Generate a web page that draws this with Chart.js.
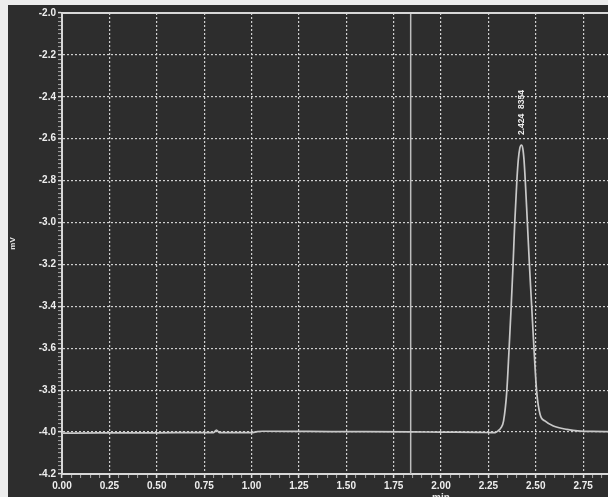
<!DOCTYPE html>
<html>
<head>
<meta charset="utf-8">
<script src="https://cdn.jsdelivr.net/npm/chart.js@4.4.1/dist/chart.umd.min.js"></script>
<style>
html, body { margin: 0; padding: 0; width: 608px; height: 497px; overflow: hidden; background: #ececec; }
#wrap { position: absolute; left: 8px; top: 5px; width: 830px; height: 505px; background: #2d2d2d; }
</style>
</head>
<body>
<div id="wrap"><canvas id="cromatograma" width="830" height="505"></canvas></div>
<script>
const tiempoMin = [
    0.00, 0.20, 0.40, 0.60, 0.80, 0.815, 0.83, 1.00, 1.03, 1.06, 1.30, 1.60, 1.84, 2.00, 2.20,
    2.286, 2.300, 2.316, 2.330, 2.347, 2.359, 2.370, 2.380, 2.389, 2.400, 2.408, 2.416, 2.424,
    2.432, 2.438, 2.445, 2.456, 2.467, 2.479, 2.491, 2.505, 2.523, 2.550, 2.593, 2.664, 2.734,
    2.800, 2.900
];
const senalMv = [
    -4.005, -4.004, -4.004, -4.003, -4.003, -3.990, -4.003, -4.003, -3.998, -3.996, -3.997, -3.998, -3.999, -4.000, -4.001,
    -4.003, -3.995, -3.980, -3.948, -3.808, -3.608, -3.408, -3.208, -3.005, -2.805, -2.700, -2.645, -2.630,
    -2.648, -2.700, -2.805, -3.005, -3.208, -3.408, -3.608, -3.808, -3.916, -3.948, -3.971, -3.987, -3.995,
    -3.997, -3.998
];

// marca vertical
const marcaX = [1.84, 1.84];
const marcaY = [-4.2, -2.0];

// pico
const picoX = 2.424;
const picoY = -2.630;
const picoTexto = "2.424  8354";

// ejes
const ejeXMin = 0, ejeXMax = 4.0, ejeXPaso = 0.05, ejeXMayor = 0.25;
const ejeYMin = -4.2, ejeYMax = -2.0, ejeYPaso = 0.02, ejeYMayor = 0.2;

function esMayor(v, paso) {
    return Math.abs(v / paso - Math.round(v / paso)) < 1e-6;
}

const marcoYEtiqueta = {
    id: "marcoYEtiqueta",
    afterDatasetsDraw(chart) {
        const {ctx, chartArea, scales} = chart;
        ctx.save();
        ctx.strokeStyle = "#d8d8d8";
        ctx.lineWidth = 2;
        ctx.beginPath();
        ctx.moveTo(chartArea.left, chartArea.top);
        ctx.lineTo(chartArea.right, chartArea.top);
        ctx.stroke();

        const px = scales.x.getPixelForValue(picoX);
        const py = scales.y.getPixelForValue(picoY);
        ctx.translate(px, py - 10);
        ctx.rotate(-Math.PI / 2);
        ctx.fillStyle = "#ececec";
        ctx.font = 'bold 8.5px "Liberation Sans"';
        ctx.textAlign = "left";
        ctx.textBaseline = "middle";
        ctx.fillText(picoTexto, 0, 0);
        ctx.restore();
    }
};

const fuenteTicks = { family: '"Liberation Sans", Arial, sans-serif', size: 10, weight: "bold" };

new Chart(document.getElementById("cromatograma"), {
    type: "line",
    data: {
        datasets: [
            {
                data: tiempoMin.map((t, i) => ({ x: t, y: senalMv[i] })),
                borderColor: "#c8c8c8",
                borderWidth: 1.7,
                pointRadius: 0,
                cubicInterpolationMode: "monotone"
            },
            {
                data: marcaX.map((t, i) => ({ x: t, y: marcaY[i] })),
                borderColor: "#bdbdbd",
                borderWidth: 1.5,
                pointRadius: 0
            }
        ]
    },
    options: {
        responsive: false,
        animation: false,
        layout: { padding: { top: 6, right: 18, left: 0, bottom: 0 } },
        plugins: { legend: { display: false }, tooltip: { enabled: false } },
        scales: {
            x: {
                type: "linear",
                min: ejeXMin,
                max: ejeXMax,
                afterFit: s => { s.height = 36; },
                ticks: {
                    stepSize: ejeXPaso,
                    autoSkip: false,
                    maxRotation: 0,
                    padding: 2,
                    color: "#eeeeee",
                    font: fuenteTicks,
                    callback: v => esMayor(v, ejeXMayor) ? v.toFixed(2) : ""
                },
                grid: {
                    color: c => (esMayor(c.tick.value, ejeXMayor) && c.tick.value > ejeXMin + 1e-6) ? "#cfcfcf" : "transparent",
                    lineWidth: 1.2,
                    tickLength: 4,
                    tickColor: c => esMayor(c.tick.value, ejeXMayor) ? "#dddddd" : "#a8a8a8",
                    tickWidth: c => esMayor(c.tick.value, ejeXMayor) ? 1.5 : 1
                },
                border: { display: true, color: "#d8d8d8", width: 2, dash: [2, 2] },
                title: {
                    display: true,
                    text: "min",
                    color: "#e6e6e6",
                    font: fuenteTicks,
                    padding: { top: 0, bottom: 6 }
                }
            },
            y: {
                min: ejeYMin,
                max: ejeYMax,
                afterFit: s => { s.width = 54; },
                ticks: {
                    stepSize: ejeYPaso,
                    autoSkip: false,
                    padding: 2,
                    color: "#eeeeee",
                    font: fuenteTicks,
                    callback: v => esMayor(v, ejeYMayor) ? v.toFixed(1) : ""
                },
                grid: {
                    color: c => (esMayor(c.tick.value, ejeYMayor) && c.tick.value > ejeYMin + 1e-6 && c.tick.value < ejeYMax - 1e-6) ? "#cfcfcf" : "transparent",
                    lineWidth: 1.2,
                    tickLength: 4,
                    tickColor: c => esMayor(c.tick.value, ejeYMayor) ? "#dddddd" : "#a8a8a8",
                    tickWidth: c => esMayor(c.tick.value, ejeYMayor) ? 1.5 : 1
                },
                border: { display: true, color: "#d8d8d8", width: 2, dash: [2, 2] },
                title: {
                    display: true,
                    text: "mV",
                    color: "#e6e6e6",
                    font: { family: '"Liberation Sans", Arial, sans-serif', size: 8, weight: "bold" },
                    padding: 0
                }
            }
        }
    },
    plugins: [marcoYEtiqueta]
});
</script>
</body>
</html>
